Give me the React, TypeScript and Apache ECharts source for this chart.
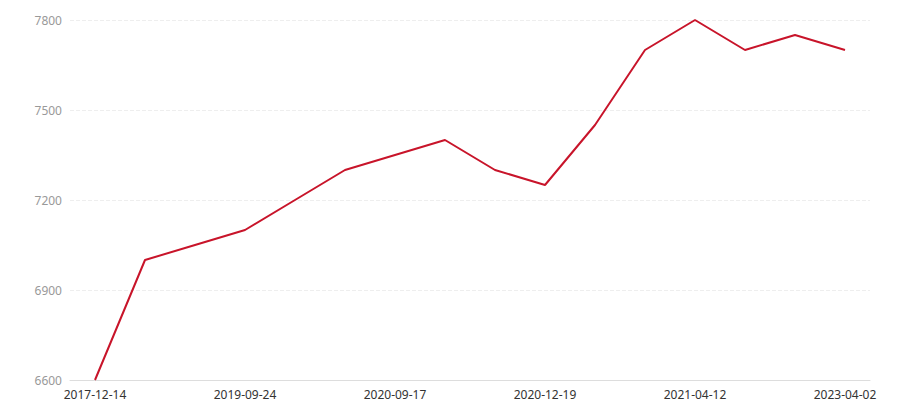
import React, { useEffect, useRef } from "react";
import * as echarts from "echarts";

const categories = [
  "2017-12-14", "2018-06-20", "2019-02-11", "2019-09-24", "2019-12-30", "2020-04-15",
  "2020-09-17", "2020-10-22", "2020-11-20", "2020-12-19", "2021-01-25", "2021-03-05",
  "2021-04-12", "2021-11-08", "2022-07-15", "2023-04-02",
];
const values = [6600, 7000, 7050, 7100, 7200, 7300, 7350, 7400, 7300, 7250, 7450, 7700, 7800, 7700, 7750, 7700];
const yMin = 6600;
const yMax = 7800;
const yInterval = 300;

export default function App() {
  const ref = useRef<HTMLDivElement>(null);
  useEffect(() => {
    document.body.style.margin = "0";
    if (!ref.current) return;
    const chart = echarts.init(ref.current, undefined, { renderer: "svg" });
    chart.setOption({
      animation: false,
      textStyle: { fontFamily: "Noto Sans" },
      grid: { left: 70, right: 30, top: 20, bottom: 20, containLabel: false },
      xAxis: {
        type: "category",
        data: categories,
        boundaryGap: true,
        axisLine: { lineStyle: { color: "#ddd" } },
        axisTick: { alignWithLabel: true, interval: 2, lineStyle: { color: "#ddd" } },
        axisLabel: { interval: 2, color: "#333", fontSize: 12, margin: 8 },
      },
      yAxis: {
        type: "value",
        min: yMin,
        max: yMax,
        interval: yInterval,
        axisLine: { show: false },
        axisTick: { show: false },
        axisLabel: { color: "#999", fontSize: 12, margin: 8, formatter: (v: number) => String(v) },
        splitLine: { lineStyle: { color: "#eee", type: "dashed" } },
      },
      series: [
        {
          type: "line",
          data: values,
          symbol: "none",
          lineStyle: { color: "#c8142a", width: 2 },
          itemStyle: { color: "#c8142a" },
        },
      ],
    });
    return () => chart.dispose();
  }, []);
  return <div ref={ref} style={{ width: 900, height: 400 }} />;
}
